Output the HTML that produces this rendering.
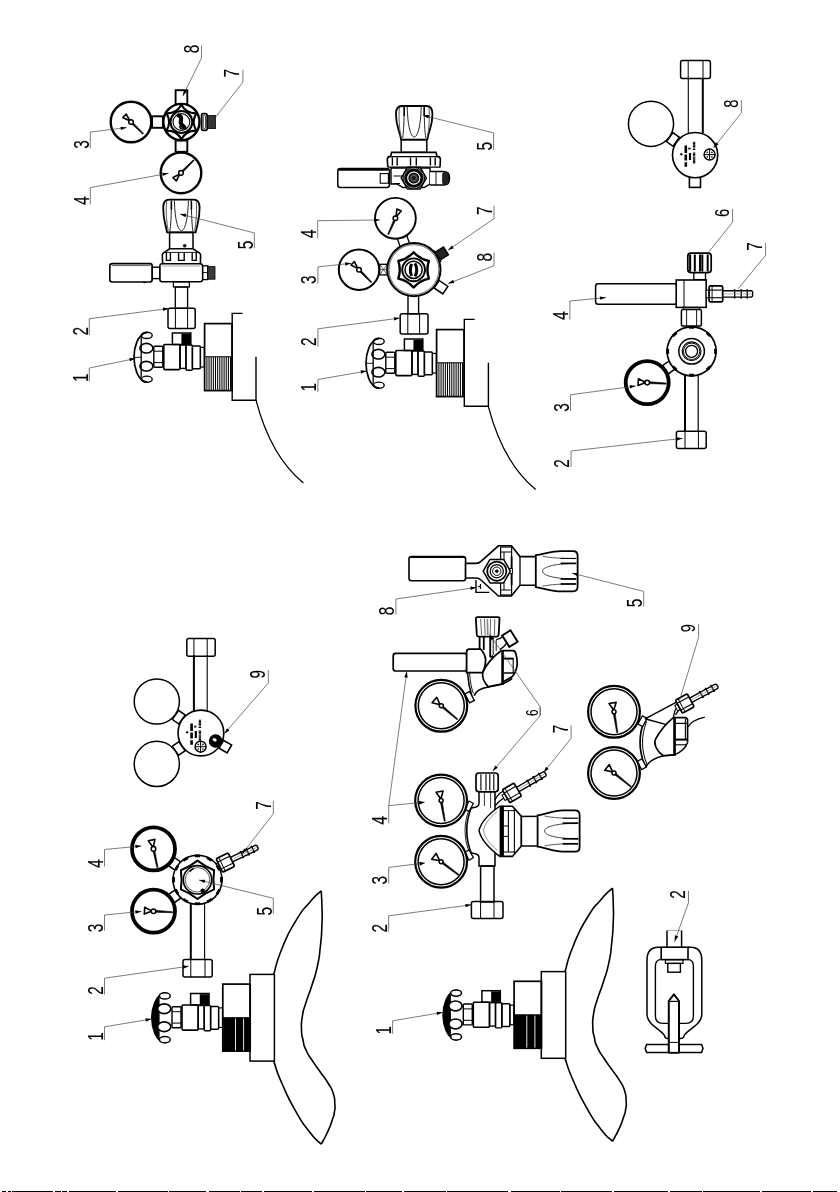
<!DOCTYPE html>
<html><head><meta charset="utf-8"><title>Drawing</title>
<style>
html,body{margin:0;padding:0;background:#fff;overflow:hidden;}
svg{display:block;}
text{font-family:"Liberation Sans",sans-serif;fill:#000;}
svg{filter:grayscale(1);}
</style></head>
<body>
<svg width="840" height="1192" viewBox="0 0 840 1192">
<rect x="0" y="0" width="840" height="1192" fill="#fff"/>
<circle cx="131" cy="122" r="20.3" fill="#fff" stroke="#000" stroke-width="2.4"/>
<polygon points="130.31,122.72 142.85,134.2 143.61,133.41 131.69,121.28" fill="#000" stroke="#000" stroke-width="0.6"/>
<polygon points="129.92,120.96 122.86,117.47 126.19,114.02" fill="#fff" stroke="#000" stroke-width="1.6" stroke-linejoin="round"/>
<circle cx="131" cy="122" r="2.3" fill="#fff" stroke="#000" stroke-width="1.5"/>
<circle cx="181" cy="172.9" r="20.3" fill="#fff" stroke="#000" stroke-width="2.4"/>
<polygon points="181.71,173.61 194.12,160.56 193.34,159.78 180.29,172.19" fill="#000" stroke="#000" stroke-width="0.6"/>
<polygon points="179.94,173.96 176.33,180.96 172.94,177.57" fill="#fff" stroke="#000" stroke-width="1.6" stroke-linejoin="round"/>
<circle cx="181" cy="172.9" r="2.3" fill="#fff" stroke="#000" stroke-width="1.5"/>
<rect x="152.1" y="116.3" width="10.8" height="11.5" rx="0" fill="none" stroke="#000" stroke-width="1.9"/>
<rect x="175.6" y="90.2" width="11.7" height="13.8" rx="0" fill="none" stroke="#000" stroke-width="1.9"/>
<rect x="175.6" y="140.5" width="11.7" height="11.3" rx="0" fill="none" stroke="#000" stroke-width="1.9"/>
<circle cx="181.4" cy="122" r="18.1" fill="#fff" stroke="#000" stroke-width="2.4"/>
<path d="M181.4 139.2 Q176.6 130.31 166.5 130.6 Q171.8 122 166.5 113.4 Q176.6 113.69 181.4 104.8 Q186.2 113.69 196.3 113.4 Q191 122 196.3 130.6 Q186.2 130.31 181.4 139.2Z" fill="none" stroke="#000" stroke-width="2.1" stroke-linejoin="round"/>
<circle cx="181.4" cy="122" r="10.9" fill="none" stroke="#000" stroke-width="2.0"/>
<circle cx="181.4" cy="122" r="8.4" fill="none" stroke="#000" stroke-width="1.1"/>
<path d="M178.6 115.6 C183.6 117 179.6 121.6 181 123.6 C182 125.6 184.4 126.4 184.6 128" fill="none" stroke="#000" stroke-width="4.2" stroke-linecap="round"/>
<path d="M179.4 126 Q180 128.4 182.6 128.8" fill="none" stroke="#000" stroke-width="1.6" />
<rect x="201.6" y="113.6" width="5.6" height="16.8" rx="1.8" fill="none" stroke="#000" stroke-width="1.7"/>
<rect x="203.2" y="115.6" width="2.4" height="12.8" rx="0.8" fill="none" stroke="#000" stroke-width="0.8"/>
<rect x="207.6" y="115.4" width="7.8" height="13.2" rx="0" fill="#333" stroke="#000" stroke-width="0.8"/>
<path d="M167.1 232.4 C164.6 220.4 163.2 219.6 163.2 207.6 Q163.2 199.6 169.2 199.6 H193.6 Q199.6 199.6 199.6 207.6 C199.6 219.6 198.2 220.4 195.7 232.4 Z" fill="#fff" stroke="#000" stroke-width="1.8" />
<path d="M174.4 200.6 C174.9 219.6 177.9 230.6 181.4 230.6 C184.9 230.6 187.9 219.6 188.4 200.6" fill="none" stroke="#222" stroke-width="1.0" />
<path d="M171.4 200.6 C171.4 215.6 170.8 225.6 169.8 231.6" fill="none" stroke="#222" stroke-width="1.0" />
<path d="M191.4 200.6 C191.4 215.6 192 225.6 193 231.6" fill="none" stroke="#222" stroke-width="1.0" />
<path d="M166.6 201.6 C165.6 211.6 166.8 223.6 168.2 230.6" fill="none" stroke="#444" stroke-width="0.9" />
<path d="M196.2 201.6 C197.2 211.6 196 223.6 194.6 230.6" fill="none" stroke="#444" stroke-width="0.9" />
<line x1="171.4" y1="200.6" x2="171.4" y2="209.6" stroke="#000" stroke-width="1.5"/>
<line x1="191.4" y1="200.6" x2="191.4" y2="209.6" stroke="#000" stroke-width="1.5"/>
<rect x="169.6" y="232.4" width="23.4" height="16.4" rx="0" fill="none" stroke="#000" stroke-width="1.5"/>
<circle cx="184.7" cy="245.7" r="1.5" fill="#000" stroke="#000" stroke-width="0.5"/>
<path d="M162.6 263.4 L162.3 255 Q162.4 253.4 164 252.6 L169.6 248.8 H193 L198.8 252.6 Q200.5 253.4 200.6 255 L200.4 263.4" fill="#fff" stroke="#000" stroke-width="1.6" />
<path d="M166.4 252.6 V260.4 H170.4 V252.6" fill="none" stroke="#000" stroke-width="1.4" />
<path d="M178.6 252.6 V260.4 H184.20000000000002 V252.6" fill="none" stroke="#000" stroke-width="1.4" />
<path d="M192.2 252.6 V260.4 H196.2 V252.6" fill="none" stroke="#000" stroke-width="1.4" />
<line x1="163" y1="252.4" x2="200" y2="252.4" stroke="#000" stroke-width="0.9"/>
<rect x="159.8" y="263.8" width="42.8" height="18" rx="2.5" fill="none" stroke="#000" stroke-width="1.4"/>
<line x1="162" y1="266" x2="200.5" y2="266" stroke="#777" stroke-width="0.6"/>
<rect x="109.8" y="263.6" width="42.4" height="18.4" rx="2.5" fill="none" stroke="#000" stroke-width="1.6"/>
<line x1="112" y1="265.6" x2="150.4" y2="265.6" stroke="#333" stroke-width="0.8"/>
<path d="M143 282 q1.5 1.6 3 0" fill="none" stroke="#000" stroke-width="1.0" />
<rect x="152.2" y="267.2" width="7.6" height="11.4" rx="0" fill="none" stroke="#000" stroke-width="1.4"/>
<rect x="202.6" y="265.8" width="5.2" height="13.8" rx="0" fill="none" stroke="#000" stroke-width="1.3"/>
<line x1="202.8" y1="272.6" x2="207.6" y2="272.6" stroke="#000" stroke-width="0.9"/>
<rect x="207.8" y="266.6" width="7.2" height="12.6" rx="0" fill="#3a3a3a" stroke="#000" stroke-width="0.8"/>
<rect x="173.4" y="281.8" width="16" height="5.2" rx="0" fill="none" stroke="#000" stroke-width="1.2"/>
<rect x="175.3" y="287" width="12.3" height="21.3" rx="0" fill="none" stroke="#000" stroke-width="1.3"/>
<rect x="168" y="308.3" width="27.2" height="20.3" rx="2" fill="none" stroke="#000" stroke-width="1.5"/>
<line x1="175.4" y1="308.5" x2="175.4" y2="328.4" stroke="#000" stroke-width="1.0"/>
<line x1="187.6" y1="308.5" x2="187.6" y2="328.4" stroke="#000" stroke-width="1.0"/>
<g transform="translate(0 0)">
<path d="M147.4 332.3 C137 333.4 134 349 134 357.3 C134 366 137 381.2 147.4 382.2" fill="none" stroke="#000" stroke-width="1.7" />
<path d="M141.2 337 V377.6" fill="none" stroke="#000" stroke-width="1.3" />
<ellipse cx="146.8" cy="335.4" rx="5.4" ry="3.1" fill="none" stroke="#000" stroke-width="1.4"/>
<ellipse cx="146.8" cy="379.2" rx="5.4" ry="3.1" fill="none" stroke="#000" stroke-width="1.4"/>
<ellipse cx="146.4" cy="348.2" rx="6.5" ry="4.8" fill="none" stroke="#000" stroke-width="1.6"/>
<ellipse cx="146.4" cy="366.2" rx="6.5" ry="4.8" fill="none" stroke="#000" stroke-width="1.6"/>
<line x1="134.5" y1="357.3" x2="141" y2="357.3" stroke="#000" stroke-width="0.9"/>
<rect x="153.8" y="346.3" width="9" height="20.9" rx="1" fill="none" stroke="#000" stroke-width="1.4"/>
<line x1="154" y1="351.2" x2="162.6" y2="351.2" stroke="#000" stroke-width="1.0"/>
<line x1="154" y1="362.6" x2="162.6" y2="362.6" stroke="#000" stroke-width="1.0"/>
<rect x="172.4" y="333" width="18.4" height="11.5" rx="0" fill="none" stroke="#000" stroke-width="1.5"/>
<rect x="181.8" y="334" width="9" height="10" rx="0" fill="#000" stroke="#000" stroke-width="0.5"/>
<rect x="163.8" y="344.5" width="16.2" height="25.1" rx="1" fill="none" stroke="#000" stroke-width="1.6"/>
<rect x="180" y="345" width="6" height="23.4" rx="0" fill="none" stroke="#000" stroke-width="1.4"/>
<rect x="186" y="345" width="6.4" height="25.2" rx="1" fill="none" stroke="#000" stroke-width="1.4"/>
<rect x="192.4" y="346" width="8" height="22.8" rx="1" fill="none" stroke="#000" stroke-width="1.4"/>
<rect x="200.4" y="347.4" width="3.9" height="19.6" rx="0" fill="none" stroke="#000" stroke-width="1.2"/>
<rect x="204.6" y="323.6" width="27.4" height="67" rx="0" fill="none" stroke="#000" stroke-width="1.7"/>
<line x1="205" y1="356.8" x2="232" y2="356.8" stroke="#000" stroke-width="1.0"/>
<path d="M206.9 356.8V390.6M209.05 356.8V390.6M211.2 356.8V390.6M213.35 356.8V390.6M215.5 356.8V390.6M217.65 356.8V390.6M219.8 356.8V390.6M221.95 356.8V390.6M224.1 356.8V390.6M226.25 356.8V390.6M228.4 356.8V390.6M230.55 356.8V390.6" fill="none" stroke="#000" stroke-width="1.05" />
</g>
<path d="M242.5 313.4 H232.2 V400.2 H256 V356.8" fill="none" stroke="#000" stroke-width="1.4" />
<path d="M256 400.2 Q270.8 456.6 303.4 483" fill="none" stroke="#000" stroke-width="1.3" />
<text transform="translate(88.8 148.8) rotate(-90) scale(0.03850 0.05500)" font-size="400" stroke="#000" stroke-width="0.1" vector-effect="non-scaling-stroke">3</text>
<path d="M90.3 148.4 L90.3 132.1 L126.7 127.6" fill="none" stroke="#444" stroke-width="0.7" />
<polygon points="126.7,127.6 120.95,130.02 120.54,126.65" fill="#000"/>
<text transform="translate(88.8 204.8) rotate(-90) scale(0.03850 0.05500)" font-size="400" stroke="#000" stroke-width="0.1" vector-effect="non-scaling-stroke">4</text>
<path d="M90.3 204.4 L90.3 187.6 L168.5 173.3" fill="none" stroke="#444" stroke-width="0.7" />
<polygon points="168.5,173.3 162.9,176.05 162.29,172.71" fill="#000"/>
<text transform="translate(198.6 53.2) rotate(-90) scale(0.03850 0.05500)" font-size="400" stroke="#000" stroke-width="0.1" vector-effect="non-scaling-stroke">8</text>
<path d="M201.5 45.5 L201.5 58 L182.8 96" fill="none" stroke="#444" stroke-width="0.7" />
<polygon points="182.8,96 183.92,89.87 186.97,91.37" fill="#000"/>
<text transform="translate(239.4 77.4) rotate(-90) scale(0.03850 0.05500)" font-size="400" stroke="#000" stroke-width="0.1" vector-effect="non-scaling-stroke">7</text>
<path d="M242.9 69.9 L242.9 82.1 L215.8 116.9" fill="none" stroke="#444" stroke-width="0.7" />
<text transform="translate(252.8 249.2) rotate(-90) scale(0.03850 0.05500)" font-size="400" stroke="#000" stroke-width="0.1" vector-effect="non-scaling-stroke">5</text>
<path d="M254.3 248 L254.3 232.9 L180 214" fill="none" stroke="#444" stroke-width="0.7" />
<polygon points="180,214 186.23,213.83 185.4,217.13" fill="#000"/>
<text transform="translate(87.8 335.4) rotate(-90) scale(0.03850 0.05500)" font-size="400" stroke="#000" stroke-width="0.1" vector-effect="non-scaling-stroke">2</text>
<path d="M89.3 335 L89.3 318.7 L169 308.5" fill="none" stroke="#444" stroke-width="0.7" />
<polygon points="169,308.5 163.26,310.95 162.83,307.58" fill="#000"/>
<text transform="translate(87.8 381.9) rotate(-90) scale(0.03850 0.05500)" font-size="400" stroke="#000" stroke-width="0.1" vector-effect="non-scaling-stroke">1</text>
<path d="M89.3 381.5 L89.3 368 L135.5 358.5" fill="none" stroke="#444" stroke-width="0.7" />
<polygon points="135.5,358.5 129.97,361.37 129.28,358.04" fill="#000"/>
<path d="M401.2 139.7 C398.7 127.7 395.95 126 395.95 114 Q395.95 106 401.95 106 H426.45 Q432.45 106 432.45 114 C432.45 126 429.7 127.7 427.2 139.7 Z" fill="#fff" stroke="#000" stroke-width="1.8" />
<path d="M407.2 107 C407.7 126 410.7 137 414.2 137 C417.7 137 420.7 126 421.2 107" fill="none" stroke="#222" stroke-width="1.0" />
<path d="M404.2 107 C404.2 122 403.6 132 402.6 138" fill="none" stroke="#222" stroke-width="1.0" />
<path d="M424.2 107 C424.2 122 424.8 132 425.8 138" fill="none" stroke="#222" stroke-width="1.0" />
<path d="M399.4 108 C398.4 118 399.6 130 401 137" fill="none" stroke="#444" stroke-width="0.9" />
<path d="M429 108 C430 118 428.8 130 427.4 137" fill="none" stroke="#444" stroke-width="0.9" />
<line x1="404.2" y1="107" x2="404.2" y2="116" stroke="#000" stroke-width="1.5"/>
<line x1="424.2" y1="107" x2="424.2" y2="116" stroke="#000" stroke-width="1.5"/>
<rect x="401.2" y="139.7" width="25.6" height="12.7" rx="0" fill="none" stroke="#000" stroke-width="1.5"/>
<path d="M387.8 167.4 L387.3 159 Q387.4 156.6 390.6 156.4 L391.6 152.4 H436 L437 156.4 Q440.3 156.6 440.4 159 L440 167.4" fill="#fff" stroke="#000" stroke-width="1.6" />
<line x1="388" y1="156.6" x2="440" y2="156.6" stroke="#000" stroke-width="1.2"/>
<path d="M392.40000000000003 157.4 V165.6 M397.2 157.4 V165.6" fill="none" stroke="#000" stroke-width="1.4" />
<path d="M410.5 157.4 V165.6 M416.29999999999995 157.4 V165.6" fill="none" stroke="#000" stroke-width="1.4" />
<path d="M430.40000000000003 157.4 V165.6 M435.2 157.4 V165.6" fill="none" stroke="#000" stroke-width="1.4" />
<line x1="388" y1="167.2" x2="440" y2="167.2" stroke="#000" stroke-width="1.3"/>
<path d="M391 168 H430 V184 L424 187.5 H403 L397 184 H391 Z" fill="#fff" stroke="#000" stroke-width="1.4" />
<line x1="393.5" y1="176" x2="403" y2="176" stroke="#000" stroke-width="1.0"/>
<line x1="393.5" y1="183.5" x2="400" y2="183.5" stroke="#000" stroke-width="1.0"/>
<rect x="337.8" y="168.6" width="51.6" height="18.8" rx="2.5" fill="none" stroke="#000" stroke-width="1.5"/>
<line x1="339" y1="169.6" x2="388" y2="169.6" stroke="#000" stroke-width="2.4"/>
<rect x="380.2" y="173.6" width="8.2" height="9.6" rx="0" fill="none" stroke="#000" stroke-width="1.1"/>
<polygon points="426.4,178.1 420.1,189.01 407.5,189.01 401.2,178.1 407.5,167.19 420.1,167.19" fill="#fff" stroke="#000" stroke-width="1.4" stroke-linejoin="round"/>
<circle cx="413.8" cy="178.1" r="8.9" fill="#fff" stroke="#000" stroke-width="4.6"/>
<circle cx="413.8" cy="178.1" r="9.9" fill="none" stroke="#ddd" stroke-width="0.6"/>
<circle cx="413.8" cy="178.1" r="5" fill="#333" stroke="#000" stroke-width="1.2"/>
<circle cx="413.8" cy="178.1" r="5.9" fill="none" stroke="#eee" stroke-width="0.5"/>
<circle cx="413.8" cy="178.1" r="2.6" fill="#111" stroke="#999" stroke-width="0.6"/>
<path d="M430 171.5 H444 Q449.6 172 449.6 178 Q449.6 184.6 444 185 H430" fill="#fff" stroke="#000" stroke-width="1.4" />
<rect x="442.4" y="172.2" width="6.6" height="12.4" rx="2.5" fill="#222" stroke="#000" stroke-width="0.6"/>
<line x1="436" y1="172" x2="436" y2="185" stroke="#000" stroke-width="0.9"/>
<rect x="-5" y="-4.5" width="10" height="9" fill="none" stroke="#000" stroke-width="1.3" transform="translate(403.6 241.5) rotate(-20)"/>
<circle cx="395.4" cy="218.3" r="20.4" fill="#fff" stroke="#000" stroke-width="1.9"/>
<polygon points="394.49,217.89 387.74,234.15 388.74,234.6 396.31,218.71" fill="#000" stroke="#000" stroke-width="0.6"/>
<polygon points="396.01,216.93 396.87,209.1 401.25,211.05" fill="#fff" stroke="#000" stroke-width="1.6" stroke-linejoin="round"/>
<circle cx="395.4" cy="218.3" r="2.3" fill="#fff" stroke="#000" stroke-width="1.5"/>
<rect x="-3.75" y="-5.3" width="7.5" height="10.6" fill="none" stroke="#000" stroke-width="1.3" transform="translate(383.5 269.6) rotate(0)"/>
<path d="M380 264.5 L387 274.6 M387 264.5 L380 274.6 M376 269.6 H392" fill="none" stroke="#000" stroke-width="0.6" />
<circle cx="359" cy="269.7" r="20.2" fill="#fff" stroke="#000" stroke-width="2.0"/>
<polygon points="358.29,270.4 371.08,282.78 371.87,282.01 359.71,269" fill="#000" stroke="#000" stroke-width="0.6"/>
<polygon points="357.95,268.63 350.98,264.96 354.4,261.6" fill="#fff" stroke="#000" stroke-width="1.6" stroke-linejoin="round"/>
<circle cx="359" cy="269.7" r="2.3" fill="#fff" stroke="#000" stroke-width="1.5"/>
<rect x="-5.5" y="-4.75" width="11" height="9.5" fill="#222" stroke="#000" stroke-width="1.2" transform="translate(441.4 253.8) rotate(-32)"/>
<rect x="-1.5" y="-6" width="3" height="12" fill="#fff" stroke="#000" stroke-width="1.0" transform="translate(436.6 256.8) rotate(-32)"/>
<rect x="-5.25" y="-4.5" width="10.5" height="9" fill="#fff" stroke="#000" stroke-width="1.5" transform="translate(441 287.2) rotate(34)"/>
<rect x="408" y="292" width="10.6" height="21.8" rx="0" fill="none" stroke="#000" stroke-width="1.4"/>
<circle cx="413.9" cy="269.6" r="26.6" fill="#fff" stroke="#000" stroke-width="2.0"/>
<circle cx="413.9" cy="269.6" r="24.9" fill="none" stroke="#333" stroke-width="0.7"/>
<path d="M413.6 287.4 Q407.4 280.54 398.36 278.6 Q401.2 269.8 398.36 261 Q407.4 259.06 413.6 252.2 Q419.8 259.06 428.84 261 Q426 269.8 428.84 278.6 Q419.8 280.54 413.6 287.4Z" fill="none" stroke="#000" stroke-width="2.4" stroke-linejoin="round"/>
<circle cx="413.6" cy="269.8" r="11.4" fill="none" stroke="#000" stroke-width="1.9"/>
<circle cx="413.6" cy="269.8" r="8.6" fill="none" stroke="#000" stroke-width="1.5"/>
<path d="M411.6 264 q-2.5 6 0 12 M415 263.4 q3.5 6.5 0 13" fill="none" stroke="#000" stroke-width="3.0" />
<rect x="400.2" y="313.8" width="27.8" height="20.2" rx="2" fill="none" stroke="#000" stroke-width="1.5"/>
<line x1="407.8" y1="314" x2="407.8" y2="334" stroke="#000" stroke-width="1.0"/>
<line x1="419.6" y1="314" x2="419.6" y2="334" stroke="#000" stroke-width="1.0"/>
<g transform="translate(232 6)">
<path d="M147.4 332.3 C137 333.4 134 349 134 357.3 C134 366 137 381.2 147.4 382.2" fill="none" stroke="#000" stroke-width="1.7" />
<path d="M141.2 337 V377.6" fill="none" stroke="#000" stroke-width="1.3" />
<ellipse cx="146.8" cy="335.4" rx="5.4" ry="3.1" fill="none" stroke="#000" stroke-width="1.4"/>
<ellipse cx="146.8" cy="379.2" rx="5.4" ry="3.1" fill="none" stroke="#000" stroke-width="1.4"/>
<ellipse cx="146.4" cy="348.2" rx="6.5" ry="4.8" fill="none" stroke="#000" stroke-width="1.6"/>
<ellipse cx="146.4" cy="366.2" rx="6.5" ry="4.8" fill="none" stroke="#000" stroke-width="1.6"/>
<line x1="134.5" y1="357.3" x2="141" y2="357.3" stroke="#000" stroke-width="0.9"/>
<rect x="153.8" y="346.3" width="9" height="20.9" rx="1" fill="none" stroke="#000" stroke-width="1.4"/>
<line x1="154" y1="351.2" x2="162.6" y2="351.2" stroke="#000" stroke-width="1.0"/>
<line x1="154" y1="362.6" x2="162.6" y2="362.6" stroke="#000" stroke-width="1.0"/>
<rect x="172.4" y="333" width="18.4" height="11.5" rx="0" fill="none" stroke="#000" stroke-width="1.5"/>
<rect x="181.8" y="334" width="9" height="10" rx="0" fill="#000" stroke="#000" stroke-width="0.5"/>
<rect x="163.8" y="344.5" width="16.2" height="25.1" rx="1" fill="none" stroke="#000" stroke-width="1.6"/>
<rect x="180" y="345" width="6" height="23.4" rx="0" fill="none" stroke="#000" stroke-width="1.4"/>
<rect x="186" y="345" width="6.4" height="25.2" rx="1" fill="none" stroke="#000" stroke-width="1.4"/>
<rect x="192.4" y="346" width="8" height="22.8" rx="1" fill="none" stroke="#000" stroke-width="1.4"/>
<rect x="200.4" y="347.4" width="3.9" height="19.6" rx="0" fill="none" stroke="#000" stroke-width="1.2"/>
<rect x="204.6" y="323.6" width="27.4" height="67" rx="0" fill="none" stroke="#000" stroke-width="1.7"/>
<line x1="205" y1="356.8" x2="232" y2="356.8" stroke="#000" stroke-width="1.0"/>
<path d="M206.9 356.8V390.6M209.05 356.8V390.6M211.2 356.8V390.6M213.35 356.8V390.6M215.5 356.8V390.6M217.65 356.8V390.6M219.8 356.8V390.6M221.95 356.8V390.6M224.1 356.8V390.6M226.25 356.8V390.6M228.4 356.8V390.6M230.55 356.8V390.6" fill="none" stroke="#000" stroke-width="1.05" />
</g>
<path d="M474.7 319.4 H464.3 V406.2 H488.4 V362.8" fill="none" stroke="#000" stroke-width="1.4" />
<path d="M488.3 406.4 Q503.1 463 535.7 489.5" fill="none" stroke="#000" stroke-width="1.3" />
<text transform="translate(492.1 150.4) rotate(-90) scale(0.03850 0.05500)" font-size="400" stroke="#000" stroke-width="0.1" vector-effect="non-scaling-stroke">5</text>
<path d="M493.6 150 L493.6 132.9 L422.9 115.3" fill="none" stroke="#444" stroke-width="0.7" />
<polygon points="422.9,115.3 429.13,115.1 428.31,118.4" fill="#000"/>
<text transform="translate(492.1 214.9) rotate(-90) scale(0.03850 0.05500)" font-size="400" stroke="#000" stroke-width="0.1" vector-effect="non-scaling-stroke">7</text>
<path d="M494 205.7 L494 218.6 L447.9 250.3" fill="none" stroke="#444" stroke-width="0.7" />
<polygon points="447.9,250.3 451.88,245.5 453.81,248.3" fill="#000"/>
<text transform="translate(492.1 261.4) rotate(-90) scale(0.03850 0.05500)" font-size="400" stroke="#000" stroke-width="0.1" vector-effect="non-scaling-stroke">8</text>
<path d="M494 252.6 L494 265.7 L448.1 283.6" fill="none" stroke="#444" stroke-width="0.7" />
<polygon points="448.1,283.6 453.07,279.84 454.31,283" fill="#000"/>
<text transform="translate(315.8 238) rotate(-90) scale(0.03850 0.05500)" font-size="400" stroke="#000" stroke-width="0.1" vector-effect="non-scaling-stroke">4</text>
<path d="M317.7 238.3 L317.7 220.7 L380 220" fill="none" stroke="#444" stroke-width="0.7" />
<polygon points="380,220 374.02,221.77 373.98,218.37" fill="#000"/>
<text transform="translate(316 284) rotate(-90) scale(0.03850 0.05500)" font-size="400" stroke="#000" stroke-width="0.1" vector-effect="non-scaling-stroke">3</text>
<path d="M317.9 283.6 L317.9 266.9 L351.2 263.3" fill="none" stroke="#444" stroke-width="0.7" />
<polygon points="351.2,263.3 345.42,265.64 345.05,262.25" fill="#000"/>
<text transform="translate(316 346) rotate(-90) scale(0.03850 0.05500)" font-size="400" stroke="#000" stroke-width="0.1" vector-effect="non-scaling-stroke">2</text>
<path d="M317.9 346.7 L317.9 328.8 L400 318.1" fill="none" stroke="#444" stroke-width="0.7" />
<polygon points="400,318.1 394.27,320.56 393.83,317.19" fill="#000"/>
<text transform="translate(316 391.6) rotate(-90) scale(0.03850 0.05500)" font-size="400" stroke="#000" stroke-width="0.1" vector-effect="non-scaling-stroke">1</text>
<path d="M317.9 392 L317.9 379.5 L366.7 371" fill="none" stroke="#444" stroke-width="0.7" />
<polygon points="366.7,371 361.08,373.7 360.5,370.35" fill="#000"/>
<line x1="688.3" y1="78" x2="688.3" y2="133" stroke="#000" stroke-width="1.1"/>
<line x1="702.8" y1="78" x2="702.8" y2="133" stroke="#000" stroke-width="2.0"/>
<rect x="680.6" y="60.6" width="29.8" height="17.9" rx="2" fill="none" stroke="#000" stroke-width="1.5"/>
<line x1="688.2" y1="60.6" x2="688.2" y2="78.5" stroke="#000" stroke-width="1.0"/>
<line x1="703" y1="60.6" x2="703" y2="78.5" stroke="#000" stroke-width="1.0"/>
<rect x="-4" y="-5.5" width="8" height="11" fill="none" stroke="#000" stroke-width="1.5" transform="translate(672.9 139.4) rotate(35.4)"/>
<circle cx="651" cy="123.8" r="22.6" fill="#fff" stroke="#000" stroke-width="1.5"/>
<rect x="689.4" y="177" width="11.1" height="10.4" rx="0" fill="none" stroke="#000" stroke-width="1.6"/>
<circle cx="695.1" cy="155.1" r="22.6" fill="#fff" stroke="#000" stroke-width="1.6"/>
<circle cx="709.6" cy="154.6" r="5.5" fill="none" stroke="#000" stroke-width="1.5"/>
<line x1="704.1" y1="154.6" x2="715.1" y2="154.6" stroke="#000" stroke-width="1.0"/>
<line x1="709.6" y1="149.1" x2="709.6" y2="160.1" stroke="#000" stroke-width="1.0"/>
<circle cx="707.3" cy="152.3" r="0.6" fill="#000" stroke="#000" stroke-width="0.4"/>
<circle cx="711.9" cy="152.3" r="0.6" fill="#000" stroke="#000" stroke-width="0.4"/>
<circle cx="707.3" cy="156.9" r="0.6" fill="#000" stroke="#000" stroke-width="0.4"/>
<circle cx="711.9" cy="156.9" r="0.6" fill="#000" stroke="#000" stroke-width="0.4"/>
<path d="M685.8 166.8 v-4.6 M685.8 160.6 v-6 M685.8 153 v-7.6" fill="none" stroke="#000" stroke-width="2.6" />
<path d="M690 160 v-7 M689.4 149.4 v-1.6" fill="none" stroke="#000" stroke-width="2.2" />
<path d="M694.1 163.6 v-11 M694.1 150 v-8.6" fill="none" stroke="#000" stroke-width="2.4" stroke-dasharray="1.1 0.35"/>
<circle cx="681.3" cy="154.3" r="1" fill="#000" stroke="#000" stroke-width="0.4"/>
<text transform="translate(738 107.7) rotate(-90) scale(0.03667 0.05238)" font-size="400" stroke="#000" stroke-width="0.1" vector-effect="non-scaling-stroke">8</text>
<path d="M741.4 100 L741.4 112.8 L713.4 148" fill="none" stroke="#444" stroke-width="0.7" />
<polygon points="713.4,148 715.8,142.25 718.47,144.36" fill="#000"/>
<rect x="595.6" y="283.8" width="81.4" height="20.4" rx="2.5" fill="none" stroke="#000" stroke-width="1.5"/>
<rect x="693.8" y="272" width="11.7" height="7.6" rx="0" fill="none" stroke="#000" stroke-width="1.3"/>
<rect x="687.8" y="253.2" width="23.4" height="19.4" rx="3" fill="#fff" stroke="#000" stroke-width="1.7"/>
<path d="M690.14 254.4 V271.4M694.82 254.4 V271.4M699.97 254.4 V271.4M702.31 254.4 V271.4M707.69 254.4 V271.4" fill="none" stroke="#000" stroke-width="2.0" />
<rect x="676.2" y="280" width="30" height="27.4" rx="0" fill="#fff" stroke="#000" stroke-width="1.6"/>
<line x1="684" y1="280" x2="684" y2="307.4" stroke="#000" stroke-width="1.0"/>
<g transform="translate(715.9 293.9) rotate(0)">
<rect x="-9.8" y="-3.8" width="3" height="7.6" rx="0" fill="#fff" stroke="#000" stroke-width="1.0"/>
<path d="M6.8 -3.2 H17.56 L18.76 -4.1 L19.36 -3.2 H24.14 L25.34 -4.1 L25.94 -3.2 H30.12 L31.32 -4.1 L31.92 -3.2 H35.7 L36.7 -2.2 V2.2 L35.7 3.2 H31.92 L31.32 4.1 L30.12 3.2 H25.94 L25.34 4.1 L24.14 3.2 H19.36 L18.76 4.1 L17.56 3.2 H6.8" fill="#fff" stroke="#000" stroke-width="1.4" stroke-linejoin="round"/>
<line x1="18.76" y1="-3.8" x2="18.76" y2="3.8" stroke="#000" stroke-width="1.3"/>
<line x1="25.34" y1="-3.8" x2="25.34" y2="3.8" stroke="#000" stroke-width="1.3"/>
<line x1="31.32" y1="-3.8" x2="31.32" y2="3.8" stroke="#000" stroke-width="1.3"/>
<line x1="7.8" y1="0" x2="35.7" y2="0" stroke="#777" stroke-width="0.6"/>
<rect x="-6.8" y="-8" width="13.6" height="16" rx="1.5" fill="#fff" stroke="#000" stroke-width="1.7"/>
<line x1="-6.6" y1="-3.8" x2="6.6" y2="-3.8" stroke="#000" stroke-width="1.1"/>
<line x1="-6.6" y1="3.8" x2="6.6" y2="3.8" stroke="#000" stroke-width="1.1"/>
<line x1="-3.8" y1="-7.7" x2="-3.8" y2="7.7" stroke="#000" stroke-width="0.9"/>
</g>
<rect x="683.5" y="307.4" width="16" height="2.6" rx="0" fill="none" stroke="#000" stroke-width="1.0"/>
<rect x="681.4" y="309.4" width="20" height="16.6" rx="1.5" fill="#fff" stroke="#000" stroke-width="1.5"/>
<line x1="686.6" y1="309.6" x2="686.6" y2="326" stroke="#000" stroke-width="0.9"/>
<line x1="696.6" y1="309.6" x2="696.6" y2="326" stroke="#000" stroke-width="0.9"/>
<line x1="685" y1="374" x2="685" y2="431.4" stroke="#000" stroke-width="2.0"/>
<line x1="698.2" y1="374" x2="698.2" y2="431.4" stroke="#000" stroke-width="1.2"/>
<rect x="676.4" y="431.2" width="29.8" height="17.2" rx="2" fill="none" stroke="#000" stroke-width="1.5"/>
<line x1="685" y1="431.2" x2="685" y2="448.4" stroke="#000" stroke-width="1.0"/>
<line x1="698.4" y1="431.2" x2="698.4" y2="448.4" stroke="#000" stroke-width="1.0"/>
<rect x="-4" y="-5" width="8" height="10" fill="none" stroke="#000" stroke-width="1.6" transform="translate(668.7 367.4) rotate(-35.2)"/>
<circle cx="691.6" cy="351.3" r="24.5" fill="#fff" stroke="#000" stroke-width="1.7"/>
<path d="M715.47 348.79 A24 24 0 0 1 715.47 353.81" fill="none" stroke="#000" stroke-width="2.9" />
<path d="M710.25 366.4 A24 24 0 0 1 706.7 369.95" fill="none" stroke="#000" stroke-width="2.9" />
<path d="M694.11 375.17 A24 24 0 0 1 689.09 375.17" fill="none" stroke="#000" stroke-width="2.9" />
<path d="M676.5 369.95 A24 24 0 0 1 672.95 366.4" fill="none" stroke="#000" stroke-width="2.9" />
<path d="M667.73 353.81 A24 24 0 0 1 667.73 348.79" fill="none" stroke="#000" stroke-width="2.9" />
<path d="M672.95 336.2 A24 24 0 0 1 676.5 332.65" fill="none" stroke="#000" stroke-width="2.9" />
<path d="M689.09 327.43 A24 24 0 0 1 694.11 327.43" fill="none" stroke="#000" stroke-width="2.9" />
<path d="M706.7 332.65 A24 24 0 0 1 710.25 336.2" fill="none" stroke="#000" stroke-width="2.9" />
<circle cx="691.6" cy="351.3" r="12.8" fill="none" stroke="#000" stroke-width="1.5"/>
<circle cx="691.6" cy="351.3" r="9.4" fill="none" stroke="#000" stroke-width="1.1"/>
<circle cx="691.6" cy="351.3" r="8.2" fill="none" stroke="#000" stroke-width="1.0"/>
<circle cx="691.6" cy="351.3" r="6" fill="none" stroke="#000" stroke-width="1.3"/>
<circle cx="647.2" cy="382.6" r="21.5" fill="#fff" stroke="#000" stroke-width="3.8"/>
<polygon points="647.15,383.6 666.15,384.14 666.2,383.05 647.25,381.6" fill="#000" stroke="#000" stroke-width="0.6"/>
<polygon points="645.7,382.52 638.03,385.52 638.39,378.73" fill="#fff" stroke="#000" stroke-width="1.6" stroke-linejoin="round"/>
<circle cx="647.2" cy="382.6" r="2.3" fill="#fff" stroke="#000" stroke-width="1.5"/>
<text transform="translate(568.4 319.8) rotate(-90) scale(0.03850 0.05500)" font-size="400" stroke="#000" stroke-width="0.1" vector-effect="non-scaling-stroke">4</text>
<path d="M569.9 319.4 L569.9 301 L606 297.6" fill="none" stroke="#444" stroke-width="0.7" />
<polygon points="606,297.6 600.19,299.86 599.87,296.47" fill="#000"/>
<text transform="translate(568.7 411.8) rotate(-90) scale(0.03850 0.05500)" font-size="400" stroke="#000" stroke-width="0.1" vector-effect="non-scaling-stroke">3</text>
<path d="M570.5 411 L570.5 394.8 L635.8 386" fill="none" stroke="#444" stroke-width="0.7" />
<polygon points="635.8,386 630.08,388.49 629.63,385.12" fill="#000"/>
<text transform="translate(569 467.8) rotate(-90) scale(0.03850 0.05500)" font-size="400" stroke="#000" stroke-width="0.1" vector-effect="non-scaling-stroke">2</text>
<path d="M571 467 L571 451 L682.6 438.3" fill="none" stroke="#444" stroke-width="0.7" />
<polygon points="682.6,438.3 676.83,440.67 676.45,437.29" fill="#000"/>
<text transform="translate(728.6 217) rotate(-90) scale(0.03667 0.05238)" font-size="400" stroke="#000" stroke-width="0.1" vector-effect="non-scaling-stroke">6</text>
<path d="M732.6 208.8 L732.6 222.1 L707.9 253.1" fill="none" stroke="#444" stroke-width="0.7" />
<text transform="translate(761.8 250.8) rotate(-90) scale(0.03850 0.05500)" font-size="400" stroke="#000" stroke-width="0.1" vector-effect="non-scaling-stroke">7</text>
<path d="M765.6 243 L765.6 255.2 L738.2 288.8" fill="none" stroke="#444" stroke-width="0.7" />
<line x1="193.9" y1="655" x2="193.9" y2="711" stroke="#000" stroke-width="2.0"/>
<line x1="207.2" y1="655" x2="207.2" y2="711" stroke="#000" stroke-width="1.1"/>
<rect x="186.8" y="638.6" width="28.4" height="17.6" rx="2" fill="none" stroke="#000" stroke-width="1.5"/>
<line x1="193.9" y1="638.6" x2="193.9" y2="656.2" stroke="#000" stroke-width="1.0"/>
<line x1="207.2" y1="638.6" x2="207.2" y2="656.2" stroke="#000" stroke-width="1.0"/>
<rect x="-4" y="-5.5" width="8" height="11" fill="none" stroke="#000" stroke-width="1.5" transform="translate(178.7 717.2) rotate(35.5)"/>
<rect x="-4" y="-5.5" width="8" height="11" fill="none" stroke="#000" stroke-width="1.5" transform="translate(178.7 748.5) rotate(-35)"/>
<circle cx="156.8" cy="701.5" r="22.6" fill="#fff" stroke="#000" stroke-width="1.5"/>
<circle cx="156.8" cy="763.9" r="22.6" fill="#fff" stroke="#000" stroke-width="1.5"/>
<rect x="-4.7" y="-4.5" width="9.4" height="9" fill="#fff" stroke="#000" stroke-width="1.6" transform="translate(225.3 746.6) rotate(30)"/>
<circle cx="200.9" cy="733" r="22.9" fill="#fff" stroke="#000" stroke-width="1.6"/>
<circle cx="200.6" cy="746.7" r="5.5" fill="none" stroke="#000" stroke-width="1.5"/>
<line x1="195.1" y1="746.7" x2="206.1" y2="746.7" stroke="#000" stroke-width="1.0"/>
<line x1="200.6" y1="741.2" x2="200.6" y2="752.2" stroke="#000" stroke-width="1.0"/>
<circle cx="198.3" cy="744.4" r="0.6" fill="#000" stroke="#000" stroke-width="0.4"/>
<circle cx="202.9" cy="744.4" r="0.6" fill="#000" stroke="#000" stroke-width="0.4"/>
<circle cx="198.3" cy="749" r="0.6" fill="#000" stroke="#000" stroke-width="0.4"/>
<circle cx="202.9" cy="749" r="0.6" fill="#000" stroke="#000" stroke-width="0.4"/>
<path d="M191.6 744.8 v-4.6 M191.6 738.6 v-6 M191.6 731 v-7.6" fill="none" stroke="#000" stroke-width="2.6" />
<path d="M195.8 738 v-7 M195.2 727.4 v-1.6" fill="none" stroke="#000" stroke-width="2.2" />
<path d="M199.9 741.6 v-11 M199.9 728 v-8.6" fill="none" stroke="#000" stroke-width="2.4" stroke-dasharray="1.1 0.35"/>
<circle cx="187.1" cy="732.3" r="1" fill="#000" stroke="#000" stroke-width="0.4"/>
<circle cx="215.6" cy="741" r="5" fill="#000" stroke="#000" stroke-width="3.6"/>
<ellipse cx="214.6" cy="739.8" rx="2" ry="1.4" fill="#fff" stroke="#fff" stroke-width="0.3" transform="rotate(30 214.6 739.8)"/>
<text transform="translate(264.6 678.4) rotate(-90) scale(0.03850 0.05500)" font-size="400" stroke="#000" stroke-width="0.1" vector-effect="non-scaling-stroke">9</text>
<path d="M268.3 670 L268.3 683 L224.3 733.8" fill="none" stroke="#444" stroke-width="0.7" />
<polygon points="224.3,733.8 226.94,728.15 229.51,730.38" fill="#000"/>
<line x1="190.8" y1="903" x2="190.8" y2="960" stroke="#000" stroke-width="2.0"/>
<line x1="204.6" y1="903" x2="204.6" y2="960" stroke="#000" stroke-width="1.1"/>
<rect x="183" y="959.5" width="29.2" height="17.5" rx="2" fill="none" stroke="#000" stroke-width="1.5"/>
<line x1="190.8" y1="959.5" x2="190.8" y2="977" stroke="#000" stroke-width="1.0"/>
<line x1="205" y1="959.5" x2="205" y2="977" stroke="#000" stroke-width="1.0"/>
<rect x="-4" y="-5" width="8" height="10" fill="none" stroke="#000" stroke-width="1.6" transform="translate(174.8 863.9) rotate(35)"/>
<rect x="-4" y="-5" width="8" height="10" fill="none" stroke="#000" stroke-width="1.6" transform="translate(174.8 896.2) rotate(-35)"/>
<g transform="translate(225.4 862.6) rotate(-25.85)">
<rect x="-9.75" y="-3.1" width="3" height="6.2" rx="0" fill="#fff" stroke="#000" stroke-width="1.0"/>
<path d="M6.75 -2.5 H17.16 L18.36 -3.4 L18.96 -2.5 H23.55 L24.75 -3.4 L25.35 -2.5 H29.35 L30.55 -3.4 L31.15 -2.5 H34.78 L35.78 -1.5 V1.5 L34.78 2.5 H31.15 L30.55 3.4 L29.35 2.5 H25.35 L24.75 3.4 L23.55 2.5 H18.96 L18.36 3.4 L17.16 2.5 H6.75" fill="#fff" stroke="#000" stroke-width="1.4" stroke-linejoin="round"/>
<line x1="18.36" y1="-3.1" x2="18.36" y2="3.1" stroke="#000" stroke-width="1.3"/>
<line x1="24.75" y1="-3.1" x2="24.75" y2="3.1" stroke="#000" stroke-width="1.3"/>
<line x1="30.55" y1="-3.1" x2="30.55" y2="3.1" stroke="#000" stroke-width="1.3"/>
<line x1="7.75" y1="0" x2="34.78" y2="0" stroke="#777" stroke-width="0.6"/>
<rect x="-6.75" y="-7.5" width="13.5" height="15" rx="1.5" fill="#fff" stroke="#000" stroke-width="1.7"/>
<line x1="-6.55" y1="-3.8" x2="6.55" y2="-3.8" stroke="#000" stroke-width="1.1"/>
<line x1="-6.55" y1="3.8" x2="6.55" y2="3.8" stroke="#000" stroke-width="1.1"/>
<line x1="-3.75" y1="-7.2" x2="-3.75" y2="7.2" stroke="#000" stroke-width="0.9"/>
</g>
<circle cx="197.5" cy="879.8" r="24.5" fill="#fff" stroke="#000" stroke-width="1.6"/>
<path d="M221.35 877.08 A24 24 0 0 1 221.35 882.52" fill="none" stroke="#000" stroke-width="2.8" />
<path d="M219.51 889.37 A24 24 0 0 1 216.79 894.08" fill="none" stroke="#000" stroke-width="2.8" />
<path d="M211.78 899.09 A24 24 0 0 1 207.07 901.81" fill="none" stroke="#000" stroke-width="2.8" />
<path d="M200.22 903.65 A24 24 0 0 1 194.78 903.65" fill="none" stroke="#000" stroke-width="2.8" />
<path d="M187.93 901.81 A24 24 0 0 1 183.22 899.09" fill="none" stroke="#000" stroke-width="2.8" />
<path d="M178.21 894.08 A24 24 0 0 1 175.49 889.37" fill="none" stroke="#000" stroke-width="2.8" />
<path d="M173.65 882.52 A24 24 0 0 1 173.65 877.08" fill="none" stroke="#000" stroke-width="2.8" />
<path d="M175.49 870.23 A24 24 0 0 1 178.21 865.52" fill="none" stroke="#000" stroke-width="2.8" />
<path d="M183.22 860.51 A24 24 0 0 1 187.93 857.79" fill="none" stroke="#000" stroke-width="2.8" />
<path d="M194.78 855.95 A24 24 0 0 1 200.22 855.95" fill="none" stroke="#000" stroke-width="2.8" />
<path d="M207.07 857.79 A24 24 0 0 1 211.78 860.51" fill="none" stroke="#000" stroke-width="2.8" />
<path d="M216.79 865.52 A24 24 0 0 1 219.51 870.23" fill="none" stroke="#000" stroke-width="2.8" />
<path d="M197.5 899 Q189.9 892.96 180.87 889.4 Q182.3 879.8 180.87 870.2 Q189.9 866.64 197.5 860.6 Q205.1 866.64 214.13 870.2 Q212.7 879.8 214.13 889.4 Q205.1 892.96 197.5 899Z" fill="none" stroke="#000" stroke-width="2.0" stroke-linejoin="round"/>
<circle cx="197.5" cy="879.8" r="14.2" fill="none" stroke="#000" stroke-width="1.6"/>
<circle cx="197.5" cy="879.8" r="12.2" fill="none" stroke="#333" stroke-width="0.8"/>
<circle cx="202.6" cy="890.7" r="1.9" fill="#000" stroke="#000" stroke-width="0.6"/>
<path d="M189.6 871.6 A11 11 0 0 1 193.6 868.8" fill="none" stroke="#000" stroke-width="1.6" />
<circle cx="153.5" cy="848.9" r="21.5" fill="#fff" stroke="#000" stroke-width="3.8"/>
<polygon points="152.52,849.11 156.91,867.6 157.99,867.37 154.48,848.69" fill="#000" stroke="#000" stroke-width="0.6"/>
<polygon points="153.19,847.43 148.3,840.8 154.95,839.39" fill="#fff" stroke="#000" stroke-width="1.6" stroke-linejoin="round"/>
<circle cx="153.5" cy="848.9" r="2.3" fill="#fff" stroke="#000" stroke-width="1.5"/>
<circle cx="153.5" cy="911.2" r="21.5" fill="#fff" stroke="#000" stroke-width="3.8"/>
<polygon points="153.45,912.2 172.45,912.74 172.5,911.65 153.55,910.2" fill="#000" stroke="#000" stroke-width="0.6"/>
<polygon points="152,911.12 144.33,914.12 144.69,907.33" fill="#fff" stroke="#000" stroke-width="1.6" stroke-linejoin="round"/>
<circle cx="153.5" cy="911.2" r="2.3" fill="#fff" stroke="#000" stroke-width="1.5"/>
<g transform="translate(18.2 660.5)">
<path d="M147.4 332.3 C137 333.4 133.6 349 133.6 357.3 C133.6 366 137 381.2 147.4 382.2 L140.6 378 V336.6 Z" fill="#000" stroke="#000" stroke-width="1.6" />
<ellipse cx="146.6" cy="335.4" rx="5.4" ry="3.1" fill="#fff" stroke="#000" stroke-width="1.5"/>
<ellipse cx="146.6" cy="379.2" rx="5.4" ry="3.1" fill="#fff" stroke="#000" stroke-width="1.5"/>
<ellipse cx="146" cy="348.2" rx="6.6" ry="4.9" fill="#fff" stroke="#000" stroke-width="1.7"/>
<ellipse cx="146" cy="366.2" rx="6.6" ry="4.9" fill="#fff" stroke="#000" stroke-width="1.7"/>
<rect x="153.8" y="346.3" width="9" height="20.9" rx="1" fill="none" stroke="#000" stroke-width="1.4"/>
<line x1="154" y1="351.2" x2="162.6" y2="351.2" stroke="#000" stroke-width="1.0"/>
<line x1="154" y1="362.6" x2="162.6" y2="362.6" stroke="#000" stroke-width="1.0"/>
<rect x="172.4" y="333" width="18.4" height="11.5" rx="0" fill="none" stroke="#000" stroke-width="1.5"/>
<rect x="181.8" y="334" width="9" height="10" rx="0" fill="#000" stroke="#000" stroke-width="0.5"/>
<rect x="163.8" y="344.5" width="16.2" height="25.1" rx="1" fill="none" stroke="#000" stroke-width="1.6"/>
<rect x="180" y="345" width="6" height="23.4" rx="0" fill="none" stroke="#000" stroke-width="1.4"/>
<rect x="186" y="345" width="6.4" height="25.2" rx="1" fill="none" stroke="#000" stroke-width="1.4"/>
<rect x="192.4" y="346" width="8" height="22.8" rx="1" fill="none" stroke="#000" stroke-width="1.4"/>
<rect x="200.4" y="347.4" width="3.9" height="19.6" rx="0" fill="none" stroke="#000" stroke-width="1.2"/>
<rect x="204.6" y="323.6" width="27.4" height="67" rx="0" fill="none" stroke="#000" stroke-width="1.7"/>
<rect x="205" y="356.8" width="27" height="33.8" rx="0" fill="#000" stroke="#000" stroke-width="0.5"/>
<line x1="217.3" y1="358" x2="217.3" y2="390" stroke="#fff" stroke-width="0.9"/>
<line x1="225.4" y1="358" x2="225.4" y2="390" stroke="#fff" stroke-width="0.9"/>
</g>
<rect x="250" y="974.4" width="24.4" height="86.7" rx="0" fill="none" stroke="#000" stroke-width="1.5"/>
<g transform="translate(0 0)">
<path d="M273.8 974.1 C276.6 965.4 274.87 965.77 282.2 948 C289.53 930.23 286.73 935.9 295.8 920.8 C304.87 905.7 300.93 912.67 309.4 902.7 C317.87 892.73 317.27 894.83 321.2 890.9" fill="none" stroke="#000" stroke-width="1.6" />
<path d="M321.2 890.9 C321.47 896.6 321.77 896.5 322 908 C322.23 919.5 322.43 912.73 321.9 925.4 C321.37 938.07 321.9 932.4 320.4 946 C318.9 959.6 320.2 953.2 317.4 966.2 C314.6 979.2 315.8 972.93 312 985 C308.2 997.07 309.2 992.07 306 1002.4 C302.8 1012.73 303.9 1006.9 302.4 1016 C300.9 1025.1 301.3 1021.7 301.5 1029.7 C301.7 1037.7 301.5 1033.23 303 1040 C304.5 1046.77 302.67 1042.8 306 1050 C309.33 1057.2 308.07 1054.03 313 1061.6 C317.93 1069.17 315.8 1065.57 320.8 1072.7 C325.8 1079.83 323.87 1076.17 328 1083 C332.13 1089.83 330.93 1086.4 333.2 1093.2 C335.47 1100 334.4 1097.13 334.8 1103.4 C335.2 1109.67 335.3 1106.33 334.4 1112 C333.5 1117.67 334.37 1113.73 332.1 1120.4 C329.83 1127.07 331.23 1124.07 327.6 1132 C323.97 1139.93 323.33 1140.13 321.2 1144.2" fill="none" stroke="#000" stroke-width="1.6" />
<path d="M321.2 1144.2 C317.27 1140.03 317.87 1142.67 309.4 1131.7 C300.93 1120.73 304.87 1127.2 295.8 1111.3 C286.73 1095.4 289.53 1100.63 282.2 1084 C274.87 1067.37 276.6 1068.93 273.8 1061.4" fill="none" stroke="#000" stroke-width="1.6" />
</g>
<text transform="translate(102.6 867.8) rotate(-90) scale(0.03850 0.05500)" font-size="400" stroke="#000" stroke-width="0.1" vector-effect="non-scaling-stroke">4</text>
<path d="M104.5 866.4 L104.5 849.5 L141.4 846" fill="none" stroke="#444" stroke-width="0.7" />
<polygon points="141.4,846 135.59,848.26 135.27,844.87" fill="#000"/>
<text transform="translate(102.6 932.2) rotate(-90) scale(0.03850 0.05500)" font-size="400" stroke="#000" stroke-width="0.1" vector-effect="non-scaling-stroke">3</text>
<path d="M104.5 930.6 L104.5 915 L141.4 911.4" fill="none" stroke="#444" stroke-width="0.7" />
<polygon points="141.4,911.4 135.59,913.67 135.26,910.29" fill="#000"/>
<text transform="translate(102.6 994.8) rotate(-90) scale(0.03850 0.05500)" font-size="400" stroke="#000" stroke-width="0.1" vector-effect="non-scaling-stroke">2</text>
<path d="M104.5 994.4 L104.5 978.2 L189 966.2" fill="none" stroke="#444" stroke-width="0.7" />
<polygon points="189,966.2 183.3,968.73 182.82,965.36" fill="#000"/>
<text transform="translate(102.6 1040.8) rotate(-90) scale(0.03850 0.05500)" font-size="400" stroke="#000" stroke-width="0.1" vector-effect="non-scaling-stroke">1</text>
<path d="M104.5 1040.2 L104.5 1026.8 L151.6 1019" fill="none" stroke="#444" stroke-width="0.7" />
<polygon points="151.6,1019 145.96,1021.66 145.4,1018.3" fill="#000"/>
<text transform="translate(271.2 809.8) rotate(-90) scale(0.03850 0.05500)" font-size="400" stroke="#000" stroke-width="0.1" vector-effect="non-scaling-stroke">7</text>
<path d="M273.3 800.7 L273.3 813.8 L241.9 854.3" fill="none" stroke="#444" stroke-width="0.7" />
<polygon points="241.9,854.3 244.23,848.52 246.92,850.6" fill="#000"/>
<text transform="translate(272.2 915.4) rotate(-90) scale(0.03850 0.05500)" font-size="400" stroke="#000" stroke-width="0.1" vector-effect="non-scaling-stroke">5</text>
<path d="M273.3 913.8 L273.3 898.3 L199 880" fill="none" stroke="#444" stroke-width="0.7" />
<polygon points="199,880 205.23,879.78 204.42,883.09" fill="#000"/>
<rect x="409" y="556.6" width="56.6" height="24.2" rx="2.5" fill="none" stroke="#000" stroke-width="1.6"/>
<line x1="411" y1="557.4" x2="463.6" y2="557.4" stroke="#000" stroke-width="1.2"/>
<path d="M476 580 V592.4 H489.4" fill="none" stroke="#000" stroke-width="1.4" />
<line x1="480.5" y1="584" x2="480.5" y2="589" stroke="#000" stroke-width="1.2"/>
<line x1="478" y1="586.5" x2="481" y2="586.5" stroke="#000" stroke-width="1.2"/>
<path d="M465.6 563.4 H476 Q479 563.4 481 561.4 L498.4 545.8 H511.4 L520 556.6 H535.8 V585.2 H520 L511.4 596 H498.4 L481 580 Q479 578 476 578 H465.6 Z" fill="#fff" stroke="#000" stroke-width="1.6" />
<rect x="500.6" y="547" width="11" height="48" rx="0" fill="none" stroke="#000" stroke-width="1.2"/>
<line x1="500.6" y1="552" x2="511.6" y2="552" stroke="#000" stroke-width="1.0"/>
<line x1="500.6" y1="590" x2="511.6" y2="590" stroke="#000" stroke-width="1.0"/>
<line x1="504" y1="552" x2="504" y2="560" stroke="#000" stroke-width="1.0"/>
<line x1="504" y1="582" x2="504" y2="590" stroke="#000" stroke-width="1.0"/>
<line x1="511.6" y1="556.6" x2="511.6" y2="585.2" stroke="#000" stroke-width="1.8"/>
<line x1="520" y1="556.6" x2="520" y2="585.2" stroke="#000" stroke-width="1.3"/>
<rect x="509.4" y="568.6" width="3" height="5" rx="0" fill="#fff" stroke="#000" stroke-width="0.9"/>
<polygon points="510.4,571.2 503.6,582.98 490,582.98 483.2,571.2 490,559.42 503.6,559.42" fill="#fff" stroke="#000" stroke-width="1.5" stroke-linejoin="round"/>
<circle cx="496.8" cy="571.2" r="9.6" fill="none" stroke="#000" stroke-width="1.8"/>
<circle cx="496.8" cy="571.2" r="6.6" fill="none" stroke="#000" stroke-width="1.2"/>
<circle cx="496.8" cy="571.2" r="4.2" fill="none" stroke="#000" stroke-width="1.0"/>
<circle cx="496.8" cy="571.2" r="1.5" fill="#000" stroke="#000" stroke-width="0.5"/>
<path d="M535.8 555.2 C543.8 554.2 551.8 551.1 560.8 551.1 H573.1 Q577.6 551.1 577.6 555.6 V586.8 Q577.6 591.3 573.1 591.3 H560.8 C551.8 591.3 543.8 588.2 535.8 587.2 Z" fill="#fff" stroke="#000" stroke-width="1.8" />
<path d="M576.6 563.4 C557.6 563.4 542.6 566.2 542.6 571.2 C542.6 576.2 557.6 579 576.6 579" fill="none" stroke="#444" stroke-width="1.0" />
<path d="M575.6 558.6 C561.6 558.6 549.6 557.8 542.6 556.2" fill="none" stroke="#555" stroke-width="1.0" />
<path d="M575.6 583.8 C561.6 583.8 549.6 584.6 542.6 586.2" fill="none" stroke="#555" stroke-width="1.0" />
<line x1="560.6" y1="563.4" x2="576.1" y2="563.4" stroke="#000" stroke-width="1.7"/>
<line x1="560.6" y1="579" x2="576.1" y2="579" stroke="#000" stroke-width="1.7"/>
<line x1="560.6" y1="584" x2="576.1" y2="584" stroke="#000" stroke-width="1.7"/>
<line x1="560.6" y1="558.4" x2="576.1" y2="558.4" stroke="#000" stroke-width="1.0"/>
<text transform="translate(394 615.2) rotate(-90) scale(0.03850 0.05500)" font-size="400" stroke="#000" stroke-width="0.1" vector-effect="non-scaling-stroke">8</text>
<path d="M395.9 614.6 L395.9 599 L476.4 587.4" fill="none" stroke="#444" stroke-width="0.7" />
<polygon points="476.4,587.4 470.7,589.94 470.22,586.57" fill="#000"/>
<text transform="translate(641.8 607.2) rotate(-90) scale(0.03850 0.05500)" font-size="400" stroke="#000" stroke-width="0.1" vector-effect="non-scaling-stroke">5</text>
<path d="M643.7 606.6 L643.7 591.4 L572 573.1" fill="none" stroke="#444" stroke-width="0.7" />
<polygon points="572,573.1 578.23,572.94 577.39,576.23" fill="#000"/>
<rect x="393.2" y="653.4" width="73.8" height="17.6" rx="2.5" fill="none" stroke="#000" stroke-width="1.7"/>
<path d="M479.6 636 V649 M483.8 636 V650 M490.2 636 V656.6 Q491 657.6 493 655.6" fill="none" stroke="#000" stroke-width="1.8" />
<path d="M493.2 640 V655 M496.2 640 V651" fill="none" stroke="#000" stroke-width="0.9" />
<path d="M477.4 617.2 H498 Q499.6 617.2 499.5 619 L498.6 635 Q498.5 636.6 497 636.6 H478.4 Q476.9 636.6 476.8 635 L475.9 619 Q475.8 617.2 477.4 617.2 Z" fill="#fff" stroke="#000" stroke-width="1.8" />
<path d="M480.6 619 L481.6 635 M484.4 619 L485.2 635 M490.6 619 L490.2 635 M494.8 619 L494.4 635" fill="none" stroke="#666" stroke-width="1.0" />
<path d="M487.4 619 L487.8 635" fill="none" stroke="#888" stroke-width="1.6" />
<path d="M496.2 639.6 Q500 639.4 502.8 636.6" fill="none" stroke="#000" stroke-width="1.4" />
<path d="M500 649.6 Q504 647.4 506.6 643.2" fill="none" stroke="#000" stroke-width="1.4" />
<rect x="-6.75" y="-4.9" width="13.5" height="9.8" fill="#fff" stroke="#000" stroke-width="1.9" transform="translate(509.9 638.6) rotate(58)"/>
<path d="M466.6 652 Q466.6 649.2 469.4 649.2 H480.6 C483.6 652 485.6 657 485.6 659.6 C485.6 665 484 670 482.6 672.6 H466.6 Z" fill="#fff" stroke="#000" stroke-width="1.8" />
<path d="M501.8 650.2 C495 655 487 663 482.6 672.6 C482 678 485 683.4 488.4 686.8 C493 685.6 498 685 502.6 684.2" fill="none" stroke="#000" stroke-width="1.7" />
<path d="M502.6 650.6 H512.6 Q515.6 650.8 515.8 653.6 C517.4 659 517.6 663 516.8 667.2 C515.8 672 514 675 512 676.8 L503.6 681.6" fill="none" stroke="#000" stroke-width="1.7" />
<rect x="501.7" y="650.4" width="2" height="34" rx="0" fill="#000" stroke="#000" stroke-width="0.6"/>
<line x1="503.6" y1="658.6" x2="513.4" y2="658.6" stroke="#000" stroke-width="1.9"/>
<line x1="503.6" y1="673" x2="514" y2="673" stroke="#000" stroke-width="1.5"/>
<line x1="513.2" y1="658" x2="513.2" y2="673.4" stroke="#000" stroke-width="1.1"/>
<path d="M474.2 695.8 C475.4 693 476.6 691.6 478 690.8 C481 688.6 485 687.6 488.4 687 C493 686 498 685 502.6 683.8 C506 682.6 509.4 680.6 512.2 678.4" fill="none" stroke="#000" stroke-width="1.6" />
<path d="M467.6 673 C468 681 469.6 689 471.8 695.6" fill="none" stroke="#000" stroke-width="1.5" />
<path d="M469.6 673 C470 681 471.4 688 473.4 693.6" fill="none" stroke="#000" stroke-width="0.9" />
<rect x="-2.7" y="-5" width="5.4" height="10" fill="#fff" stroke="#000" stroke-width="1.4" transform="translate(469.6 697.2) rotate(-28)"/>
<circle cx="441.3" cy="705.8" r="25.9" fill="#fff" stroke="#000" stroke-width="2.2"/>
<circle cx="441.3" cy="705.8" r="23" fill="none" stroke="#000" stroke-width="1.5"/>
<polygon points="440.66,706.57 457.03,719.72 457.74,718.88 441.94,705.03" fill="#000" stroke="#000" stroke-width="0.6"/>
<polygon points="440.15,704.84 432.09,702.77 436.72,697.26" fill="#fff" stroke="#000" stroke-width="1.6" stroke-linejoin="round"/>
<circle cx="441.3" cy="705.8" r="2" fill="#fff" stroke="#000" stroke-width="1.5"/>
<rect x="480.6" y="866" width="13.4" height="36" rx="0" fill="none" stroke="#000" stroke-width="1.5"/>
<rect x="471.4" y="901.4" width="31.6" height="17" rx="2" fill="none" stroke="#000" stroke-width="1.5"/>
<line x1="480.6" y1="901.4" x2="480.6" y2="918.4" stroke="#000" stroke-width="1.0"/>
<line x1="494" y1="901.4" x2="494" y2="918.4" stroke="#000" stroke-width="1.0"/>
<path d="M495 800 C497 795 500 791.6 507 789.6" fill="none" stroke="#000" stroke-width="1.3" />
<path d="M495 806 C499 801 503 797.4 509.6 795.6" fill="none" stroke="#000" stroke-width="1.3" />
<g transform="translate(511.9 792.9) rotate(-30.2)">
<rect x="-9.75" y="-3.1" width="3" height="6.2" rx="0" fill="#fff" stroke="#000" stroke-width="1.0"/>
<path d="M6.75 -2.5 H18.35 L19.55 -3.4 L20.15 -2.5 H25.4 L26.6 -3.4 L27.2 -2.5 H31.8 L33 -3.4 L33.6 -2.5 H37.76 L38.76 -1.5 V1.5 L37.76 2.5 H33.6 L33 3.4 L31.8 2.5 H27.2 L26.6 3.4 L25.4 2.5 H20.15 L19.55 3.4 L18.35 2.5 H6.75" fill="#fff" stroke="#000" stroke-width="1.4" stroke-linejoin="round"/>
<line x1="19.55" y1="-3.1" x2="19.55" y2="3.1" stroke="#000" stroke-width="1.3"/>
<line x1="26.6" y1="-3.1" x2="26.6" y2="3.1" stroke="#000" stroke-width="1.3"/>
<line x1="33" y1="-3.1" x2="33" y2="3.1" stroke="#000" stroke-width="1.3"/>
<line x1="7.75" y1="0" x2="37.76" y2="0" stroke="#777" stroke-width="0.6"/>
<rect x="-6.75" y="-7.5" width="13.5" height="15" rx="1.5" fill="#fff" stroke="#000" stroke-width="1.7"/>
<line x1="-6.55" y1="-3.8" x2="6.55" y2="-3.8" stroke="#000" stroke-width="1.1"/>
<line x1="-6.55" y1="3.8" x2="6.55" y2="3.8" stroke="#000" stroke-width="1.1"/>
<line x1="-3.75" y1="-7.2" x2="-3.75" y2="7.2" stroke="#000" stroke-width="0.9"/>
</g>
<path d="M479 791 V803 Q479 806.6 475.4 807.2 L471.4 808 M479 858 V866 H495 V852 M479 858 Q479 854.6 475.4 853.8 L471.4 853 M495 810 V791" fill="none" stroke="#000" stroke-width="1.5" />
<line x1="484.4" y1="792" x2="484.4" y2="806" stroke="#000" stroke-width="0.8"/>
<line x1="490.6" y1="792" x2="490.6" y2="808" stroke="#000" stroke-width="0.8"/>
<rect x="476" y="773" width="22.2" height="18.8" rx="3" fill="#fff" stroke="#000" stroke-width="1.7"/>
<path d="M480.88 774.2 V790.6M485.99 774.2 V790.6M489.76 774.2 V790.6M493.76 774.2 V790.6" fill="none" stroke="#333" stroke-width="1.4" />
<path d="M471.6 807 C465.4 822 465.4 839 471.6 854" fill="none" stroke="#000" stroke-width="1.6" />
<path d="M469.4 808.6 C463.6 823 463.6 838 469.4 852.4" fill="none" stroke="#000" stroke-width="0.9" />
<rect x="-2.5" y="-4.5" width="5" height="9" fill="#fff" stroke="#000" stroke-width="1.2" transform="translate(469 806.2) rotate(30)"/>
<rect x="-2.5" y="-4.5" width="5" height="9" fill="#fff" stroke="#000" stroke-width="1.2" transform="translate(469 855) rotate(-30)"/>
<path d="M500 806 C490 813 481 822 479 830.6 C481 840 490 849 500 856.6" fill="none" stroke="#000" stroke-width="1.5" />
<path d="M497 812 C489 818 484.6 824 483.6 830.6 C484.6 837 489 843.6 497 850" fill="none" stroke="#777" stroke-width="0.8" />
<path d="M500.4 806.2 H512.4 L521.4 816.4 V846 L512.4 856.4 H500.4 Z" fill="#fff" stroke="#000" stroke-width="1.6" />
<rect x="500.4" y="806.2" width="3.2" height="50.2" rx="0" fill="#000" stroke="#000" stroke-width="0.8"/>
<line x1="500.4" y1="810.6" x2="514" y2="810.6" stroke="#000" stroke-width="1.0"/>
<line x1="500.4" y1="852" x2="514" y2="852" stroke="#000" stroke-width="1.0"/>
<line x1="508.4" y1="810.6" x2="508.4" y2="852" stroke="#000" stroke-width="1.1"/>
<line x1="503.6" y1="826" x2="508.4" y2="826" stroke="#000" stroke-width="1.0"/>
<line x1="503.6" y1="836.4" x2="508.4" y2="836.4" stroke="#000" stroke-width="1.0"/>
<line x1="514.4" y1="808.4" x2="514.4" y2="854.2" stroke="#000" stroke-width="1.1"/>
<rect x="521.4" y="816.4" width="16.4" height="29.6" rx="0" fill="#fff" stroke="#000" stroke-width="1.5"/>
<path d="M537.6 815.3 C545.6 814.3 553.6 810.3 562.6 810.3 H575.1 Q579.6 810.3 579.6 814.8 V847.2 Q579.6 851.7 575.1 851.7 H562.6 C553.6 851.7 545.6 847.7 537.6 846.7 Z" fill="#fff" stroke="#000" stroke-width="1.8" />
<path d="M578.6 823.2 C559.6 823.2 544.6 826 544.6 831 C544.6 836 559.6 838.8 578.6 838.8" fill="none" stroke="#444" stroke-width="1.0" />
<path d="M577.6 818.4 C563.6 818.4 551.6 817.6 544.6 816" fill="none" stroke="#555" stroke-width="1.0" />
<path d="M577.6 843.6 C563.6 843.6 551.6 844.4 544.6 846" fill="none" stroke="#555" stroke-width="1.0" />
<line x1="562.6" y1="823.2" x2="578.1" y2="823.2" stroke="#000" stroke-width="1.7"/>
<line x1="562.6" y1="838.8" x2="578.1" y2="838.8" stroke="#000" stroke-width="1.7"/>
<line x1="562.6" y1="843.8" x2="578.1" y2="843.8" stroke="#000" stroke-width="1.7"/>
<line x1="562.6" y1="818.2" x2="578.1" y2="818.2" stroke="#000" stroke-width="1.0"/>
<circle cx="441.1" cy="800.5" r="25.9" fill="#fff" stroke="#000" stroke-width="2.2"/>
<circle cx="441.1" cy="800.5" r="23" fill="none" stroke="#000" stroke-width="1.5"/>
<polygon points="440.12,800.67 444.2,821.28 445.29,821.09 442.08,800.33" fill="#000" stroke="#000" stroke-width="0.6"/>
<polygon points="440.84,799.02 435.99,792.26 443.08,791.01" fill="#fff" stroke="#000" stroke-width="1.6" stroke-linejoin="round"/>
<circle cx="441.1" cy="800.5" r="2" fill="#fff" stroke="#000" stroke-width="1.5"/>
<circle cx="441.1" cy="861.7" r="25.9" fill="#fff" stroke="#000" stroke-width="2.2"/>
<circle cx="441.1" cy="861.7" r="23" fill="none" stroke="#000" stroke-width="1.5"/>
<polygon points="440.5,862.5 458.34,875.38 459,874.5 441.7,860.9" fill="#000" stroke="#000" stroke-width="0.6"/>
<polygon points="439.9,860.8 431.75,859.16 436.08,853.41" fill="#fff" stroke="#000" stroke-width="1.6" stroke-linejoin="round"/>
<circle cx="441.1" cy="861.7" r="2" fill="#fff" stroke="#000" stroke-width="1.5"/>
<text transform="translate(386.8 824.4) rotate(-90) scale(0.03850 0.05500)" font-size="400" stroke="#000" stroke-width="0.1" vector-effect="non-scaling-stroke">4</text>
<path d="M388.7 823.4 L388.7 805.6 L424.6 802.2" fill="none" stroke="#444" stroke-width="0.7" />
<polygon points="424.6,802.2 419.31,804.71 418.94,800.73" fill="#000"/>
<path d="M388.7 805.6 L406.8 671.6" fill="none" stroke="#444" stroke-width="0.7" />
<polygon points="406.8,671.6 407.68,677.77 404.31,677.32" fill="#000"/>
<text transform="translate(386.8 884.4) rotate(-90) scale(0.03850 0.05500)" font-size="400" stroke="#000" stroke-width="0.1" vector-effect="non-scaling-stroke">3</text>
<path d="M388.7 883.6 L388.7 867.4 L425 863" fill="none" stroke="#444" stroke-width="0.7" />
<polygon points="425,863 419.78,865.65 419.3,861.68" fill="#000"/>
<text transform="translate(386.8 932.6) rotate(-90) scale(0.03850 0.05500)" font-size="400" stroke="#000" stroke-width="0.1" vector-effect="non-scaling-stroke">2</text>
<path d="M388.6 931.6 L388.6 915.8 L471.4 904.8" fill="none" stroke="#444" stroke-width="0.7" />
<polygon points="471.4,904.8 465.68,907.28 465.23,903.9" fill="#000"/>
<text transform="translate(538.1 716) rotate(-90) scale(0.02933 0.04190)" font-size="400" stroke="#000" stroke-width="0.1" vector-effect="non-scaling-stroke">6</text>
<path d="M540.2 715.7 L540.2 706.8 L489.6 634.6" fill="none" stroke="#444" stroke-width="0.7" />
<polygon points="489.6,634.6 494.44,638.54 491.65,640.49" fill="#000"/>
<path d="M540.2 706.8 L540.2 715.7 L492.6 771.2" fill="none" stroke="#444" stroke-width="0.7" />
<polygon points="492.6,771.2 495.22,765.54 497.8,767.75" fill="#000"/>
<text transform="translate(568.3 733.2) rotate(-90) scale(0.03850 0.05500)" font-size="400" stroke="#000" stroke-width="0.1" vector-effect="non-scaling-stroke">7</text>
<path d="M571.1 725.2 L571.1 738.3 L543.6 772.6" fill="none" stroke="#444" stroke-width="0.7" />
<polygon points="543.6,772.6 546.03,766.86 548.68,768.98" fill="#000"/>
<path d="M644.6 719.6 C638.4 735 638.4 751 645.6 767.4" fill="none" stroke="#000" stroke-width="1.7" />
<path d="M646.6 721.4 C641 736 641 750.4 647.4 765.6" fill="none" stroke="#000" stroke-width="1.0" />
<rect x="-2.7" y="-4.7" width="5.4" height="9.4" fill="#fff" stroke="#000" stroke-width="1.3" transform="translate(642.5 721.2) rotate(28)"/>
<rect x="-2.7" y="-4.7" width="5.4" height="9.4" fill="#fff" stroke="#000" stroke-width="1.3" transform="translate(641.8 764.2) rotate(-28)"/>
<line x1="645" y1="718.8" x2="677" y2="701.8" stroke="#000" stroke-width="1.5"/>
<line x1="645" y1="718.8" x2="666.4" y2="724.6" stroke="#000" stroke-width="1.4"/>
<path d="M673.6 717.4 C674 712 675.6 708.6 677.4 706.6 M675.6 715 C677 711.6 679 709.6 681.4 708.6" fill="none" stroke="#000" stroke-width="1.3" />
<path d="M673.6 717.4 C668 722 660 731 655.6 739 C653.6 743 655.6 750 662.8 755.4 C667 755.6 671 755.2 674.6 754.8" fill="none" stroke="#000" stroke-width="1.6" />
<path d="M645.8 767.2 C648.6 761.6 654 758 662.8 756 C668 755.4 672 755.2 675 754.6 C680 752.6 685.4 748.6 687.6 742.6" fill="none" stroke="#000" stroke-width="1.5" />
<path d="M688 727 C690 723 694.6 719.6 704.8 717.2" fill="none" stroke="#000" stroke-width="1.3" />
<path d="M674.6 717.6 H685.4 Q687.6 718 687.6 720.6 V742.6" fill="none" stroke="#000" stroke-width="1.6" />
<rect x="673.5" y="717.2" width="2.2" height="38.2" rx="0" fill="#000" stroke="#000" stroke-width="0.6"/>
<line x1="675.6" y1="723.4" x2="687.6" y2="723.4" stroke="#000" stroke-width="1.2"/>
<line x1="675.6" y1="739.6" x2="687.6" y2="739.6" stroke="#000" stroke-width="2.0"/>
<line x1="675.6" y1="744.8" x2="686.4" y2="744.8" stroke="#000" stroke-width="1.1"/>
<line x1="685.4" y1="719" x2="685.4" y2="739.6" stroke="#000" stroke-width="1.1"/>
<g transform="translate(684.8 703.5) rotate(-28.5)">
<rect x="-9.75" y="-3.1" width="3" height="6.2" rx="0" fill="#fff" stroke="#000" stroke-width="1.0"/>
<path d="M6.75 -2.5 H17.69 L18.89 -3.4 L19.49 -2.5 H24.36 L25.56 -3.4 L26.16 -2.5 H30.43 L31.63 -3.4 L32.23 -2.5 H36.1 L37.1 -1.5 V1.5 L36.1 2.5 H32.23 L31.63 3.4 L30.43 2.5 H26.16 L25.56 3.4 L24.36 2.5 H19.49 L18.89 3.4 L17.69 2.5 H6.75" fill="#fff" stroke="#000" stroke-width="1.4" stroke-linejoin="round"/>
<line x1="18.89" y1="-3.1" x2="18.89" y2="3.1" stroke="#000" stroke-width="1.3"/>
<line x1="25.56" y1="-3.1" x2="25.56" y2="3.1" stroke="#000" stroke-width="1.3"/>
<line x1="31.63" y1="-3.1" x2="31.63" y2="3.1" stroke="#000" stroke-width="1.3"/>
<line x1="7.75" y1="0" x2="36.1" y2="0" stroke="#777" stroke-width="0.6"/>
<rect x="-6.75" y="-7.5" width="13.5" height="15" rx="1.5" fill="#fff" stroke="#000" stroke-width="1.7"/>
<line x1="-6.55" y1="-3.8" x2="6.55" y2="-3.8" stroke="#000" stroke-width="1.1"/>
<line x1="-6.55" y1="3.8" x2="6.55" y2="3.8" stroke="#000" stroke-width="1.1"/>
<line x1="-3.75" y1="-7.2" x2="-3.75" y2="7.2" stroke="#000" stroke-width="0.9"/>
</g>
<circle cx="614" cy="711.8" r="25.9" fill="#fff" stroke="#000" stroke-width="2.2"/>
<circle cx="614" cy="711.8" r="23" fill="none" stroke="#000" stroke-width="1.5"/>
<polygon points="613.01,711.96 616.74,732.63 617.83,732.46 614.99,711.64" fill="#000" stroke="#000" stroke-width="0.6"/>
<polygon points="613.77,710.32 609.04,703.47 616.15,702.35" fill="#fff" stroke="#000" stroke-width="1.6" stroke-linejoin="round"/>
<circle cx="614" cy="711.8" r="2" fill="#fff" stroke="#000" stroke-width="1.5"/>
<circle cx="614" cy="773" r="25.9" fill="#fff" stroke="#000" stroke-width="2.2"/>
<circle cx="614" cy="773" r="23" fill="none" stroke="#000" stroke-width="1.5"/>
<polygon points="613.37,773.78 630.75,787.27 631.44,786.42 614.63,772.22" fill="#000" stroke="#000" stroke-width="0.6"/>
<polygon points="612.83,772.06 604.74,770.13 609.27,764.54" fill="#fff" stroke="#000" stroke-width="1.6" stroke-linejoin="round"/>
<circle cx="614" cy="773" r="2" fill="#fff" stroke="#000" stroke-width="1.5"/>
<text transform="translate(695 632.2) rotate(-90) scale(0.03667 0.05238)" font-size="400" stroke="#000" stroke-width="0.1" vector-effect="non-scaling-stroke">9</text>
<path d="M698.6 624.3 L698.6 637.4 L679.5 700.5" fill="none" stroke="#444" stroke-width="0.7" />
<g transform="translate(309.5 657.7)">
<path d="M147.4 332.3 C137 333.4 133.6 349 133.6 357.3 C133.6 366 137 381.2 147.4 382.2 L140.6 378 V336.6 Z" fill="#000" stroke="#000" stroke-width="1.6" />
<ellipse cx="146.6" cy="335.4" rx="5.4" ry="3.1" fill="#fff" stroke="#000" stroke-width="1.5"/>
<ellipse cx="146.6" cy="379.2" rx="5.4" ry="3.1" fill="#fff" stroke="#000" stroke-width="1.5"/>
<ellipse cx="146" cy="348.2" rx="6.6" ry="4.9" fill="#fff" stroke="#000" stroke-width="1.7"/>
<ellipse cx="146" cy="366.2" rx="6.6" ry="4.9" fill="#fff" stroke="#000" stroke-width="1.7"/>
<rect x="153.8" y="346.3" width="9" height="20.9" rx="1" fill="none" stroke="#000" stroke-width="1.4"/>
<line x1="154" y1="351.2" x2="162.6" y2="351.2" stroke="#000" stroke-width="1.0"/>
<line x1="154" y1="362.6" x2="162.6" y2="362.6" stroke="#000" stroke-width="1.0"/>
<rect x="172.4" y="333" width="18.4" height="11.5" rx="0" fill="none" stroke="#000" stroke-width="1.5"/>
<rect x="181.8" y="334" width="9" height="10" rx="0" fill="#000" stroke="#000" stroke-width="0.5"/>
<rect x="163.8" y="344.5" width="16.2" height="25.1" rx="1" fill="none" stroke="#000" stroke-width="1.6"/>
<rect x="180" y="345" width="6" height="23.4" rx="0" fill="none" stroke="#000" stroke-width="1.4"/>
<rect x="186" y="345" width="6.4" height="25.2" rx="1" fill="none" stroke="#000" stroke-width="1.4"/>
<rect x="192.4" y="346" width="8" height="22.8" rx="1" fill="none" stroke="#000" stroke-width="1.4"/>
<rect x="200.4" y="347.4" width="3.9" height="19.6" rx="0" fill="none" stroke="#000" stroke-width="1.2"/>
<rect x="204.6" y="323.6" width="27.4" height="67" rx="0" fill="none" stroke="#000" stroke-width="1.7"/>
<rect x="205" y="356.8" width="27" height="33.8" rx="0" fill="#000" stroke="#000" stroke-width="0.5"/>
<line x1="217.3" y1="358" x2="217.3" y2="390" stroke="#fff" stroke-width="0.9"/>
<line x1="225.4" y1="358" x2="225.4" y2="390" stroke="#fff" stroke-width="0.9"/>
</g>
<rect x="541.3" y="971.6" width="24.4" height="86.7" rx="0" fill="none" stroke="#000" stroke-width="1.5"/>
<g transform="translate(291.3 -2.8)">
<path d="M273.8 974.1 C276.6 965.4 274.87 965.77 282.2 948 C289.53 930.23 286.73 935.9 295.8 920.8 C304.87 905.7 300.93 912.67 309.4 902.7 C317.87 892.73 317.27 894.83 321.2 890.9" fill="none" stroke="#000" stroke-width="1.6" />
<path d="M321.2 890.9 C321.47 896.6 321.77 896.5 322 908 C322.23 919.5 322.43 912.73 321.9 925.4 C321.37 938.07 321.9 932.4 320.4 946 C318.9 959.6 320.2 953.2 317.4 966.2 C314.6 979.2 315.8 972.93 312 985 C308.2 997.07 309.2 992.07 306 1002.4 C302.8 1012.73 303.9 1006.9 302.4 1016 C300.9 1025.1 301.3 1021.7 301.5 1029.7 C301.7 1037.7 301.5 1033.23 303 1040 C304.5 1046.77 302.67 1042.8 306 1050 C309.33 1057.2 308.07 1054.03 313 1061.6 C317.93 1069.17 315.8 1065.57 320.8 1072.7 C325.8 1079.83 323.87 1076.17 328 1083 C332.13 1089.83 330.93 1086.4 333.2 1093.2 C335.47 1100 334.4 1097.13 334.8 1103.4 C335.2 1109.67 335.3 1106.33 334.4 1112 C333.5 1117.67 334.37 1113.73 332.1 1120.4 C329.83 1127.07 331.23 1124.07 327.6 1132 C323.97 1139.93 323.33 1140.13 321.2 1144.2" fill="none" stroke="#000" stroke-width="1.6" />
<path d="M321.2 1144.2 C317.27 1140.03 317.87 1142.67 309.4 1131.7 C300.93 1120.73 304.87 1127.2 295.8 1111.3 C286.73 1095.4 289.53 1100.63 282.2 1084 C274.87 1067.37 276.6 1068.93 273.8 1061.4" fill="none" stroke="#000" stroke-width="1.6" />
</g>
<text transform="translate(390.6 1034.6) rotate(-90) scale(0.03850 0.05500)" font-size="400" stroke="#000" stroke-width="0.1" vector-effect="non-scaling-stroke">1</text>
<path d="M392.6 1033.6 L392.6 1020.8 L442.8 1012.4" fill="none" stroke="#444" stroke-width="0.7" />
<polygon points="442.8,1012.4 437.16,1015.07 436.6,1011.71" fill="#000"/>
<path d="M667 947 V930.6 M681.6 947 V930.6" fill="none" stroke="#000" stroke-width="1.5" />
<line x1="667" y1="930.4" x2="681.6" y2="930.4" stroke="#888" stroke-width="0.7"/>
<path d="M661 947.2 H658 Q647 947.6 647 960 V1014 C647 1026 663 1030 664.6 1036 Q665 1038.6 668 1038.6 M688 947.2 H691 Q701.8 947.6 701.8 960 V1014 C701.8 1026 685.6 1030 684 1036 Q683.6 1038.6 680 1038.6" fill="none" stroke="#000" stroke-width="1.5" />
<path d="M661 959.4 Q655.4 960 655.4 966 V1016 Q655.4 1023.4 663 1023.4 H668.6 M688 959.4 Q693.4 960 693.4 966 V1016 Q693.4 1023.4 686 1023.4 H679.4" fill="none" stroke="#000" stroke-width="1.4" />
<rect x="661.2" y="947.2" width="26.8" height="12.4" rx="0" fill="#fff" stroke="#000" stroke-width="1.6"/>
<rect x="665.4" y="960" width="17.6" height="3.4" rx="0" fill="#fff" stroke="#000" stroke-width="1.2"/>
<rect x="667.8" y="963.4" width="12.6" height="8.8" rx="0" fill="#fff" stroke="#000" stroke-width="1.4"/>
<path d="M646.6 1044.6 H701.6 L703 1048.4 L701.6 1052.4 H646.6 L645.2 1048.4 Z" fill="#fff" stroke="#000" stroke-width="1.5" />
<path d="M668.8 1052.6 V1001 L673.9 994.4 L679 1001 V1052.6" fill="#fff" stroke="#000" stroke-width="2.0" stroke-linejoin="round"/>
<line x1="668.8" y1="1001.4" x2="679" y2="1001.4" stroke="#000" stroke-width="1.2"/>
<line x1="668.8" y1="1042.4" x2="679" y2="1042.4" stroke="#000" stroke-width="1.0"/>
<path d="M668.4 1052.8 H679.4" fill="none" stroke="#000" stroke-width="1.8" />
<text transform="translate(685.1 898.8) rotate(-90) scale(0.03850 0.05500)" font-size="400" stroke="#000" stroke-width="0.1" vector-effect="non-scaling-stroke">2</text>
<path d="M688.5 890.9 L688.5 902.7 L674.6 941.6" fill="none" stroke="#444" stroke-width="0.7" />
<polygon points="674.6,941.6 674.92,935.34 678.31,936.56" fill="#000"/>
<rect x="0" y="1191" width="840" height="1" fill="#000"/>
<rect x="0" y="1191" width="2" height="1" fill="#fff"/>
<rect x="6" y="1191" width="2" height="1" fill="#fff"/>
<rect x="11" y="1191" width="1" height="1" fill="#fff"/>
<rect x="53" y="1191" width="2" height="1" fill="#fff"/>
<rect x="61" y="1191" width="1" height="1" fill="#fff"/>
<rect x="67" y="1191" width="2" height="1" fill="#fff"/>
<rect x="116" y="1191" width="2" height="1" fill="#fff"/>
<rect x="168" y="1191" width="1" height="1" fill="#fff"/>
<rect x="206" y="1191" width="3" height="1" fill="#fff"/>
<rect x="240" y="1191" width="1" height="1" fill="#fff"/>
<rect x="262" y="1191" width="2" height="1" fill="#fff"/>
<rect x="312" y="1191" width="2" height="1" fill="#fff"/>
<rect x="365" y="1191" width="1" height="1" fill="#fff"/>
<rect x="402" y="1191" width="2" height="1" fill="#fff"/>
<rect x="446" y="1191" width="1" height="1" fill="#fff"/>
<rect x="508" y="1191" width="3" height="1" fill="#fff"/>
<rect x="560" y="1191" width="1" height="1" fill="#fff"/>
<rect x="612" y="1191" width="2" height="1" fill="#fff"/>
<rect x="668" y="1191" width="2" height="1" fill="#fff"/>
<rect x="702" y="1191" width="1" height="1" fill="#fff"/>
<rect x="760" y="1191" width="2" height="1" fill="#fff"/>
<rect x="811" y="1191" width="2" height="1" fill="#fff"/>
<rect x="837" y="1191" width="3" height="1" fill="#fff"/>
</svg>
</body></html>
